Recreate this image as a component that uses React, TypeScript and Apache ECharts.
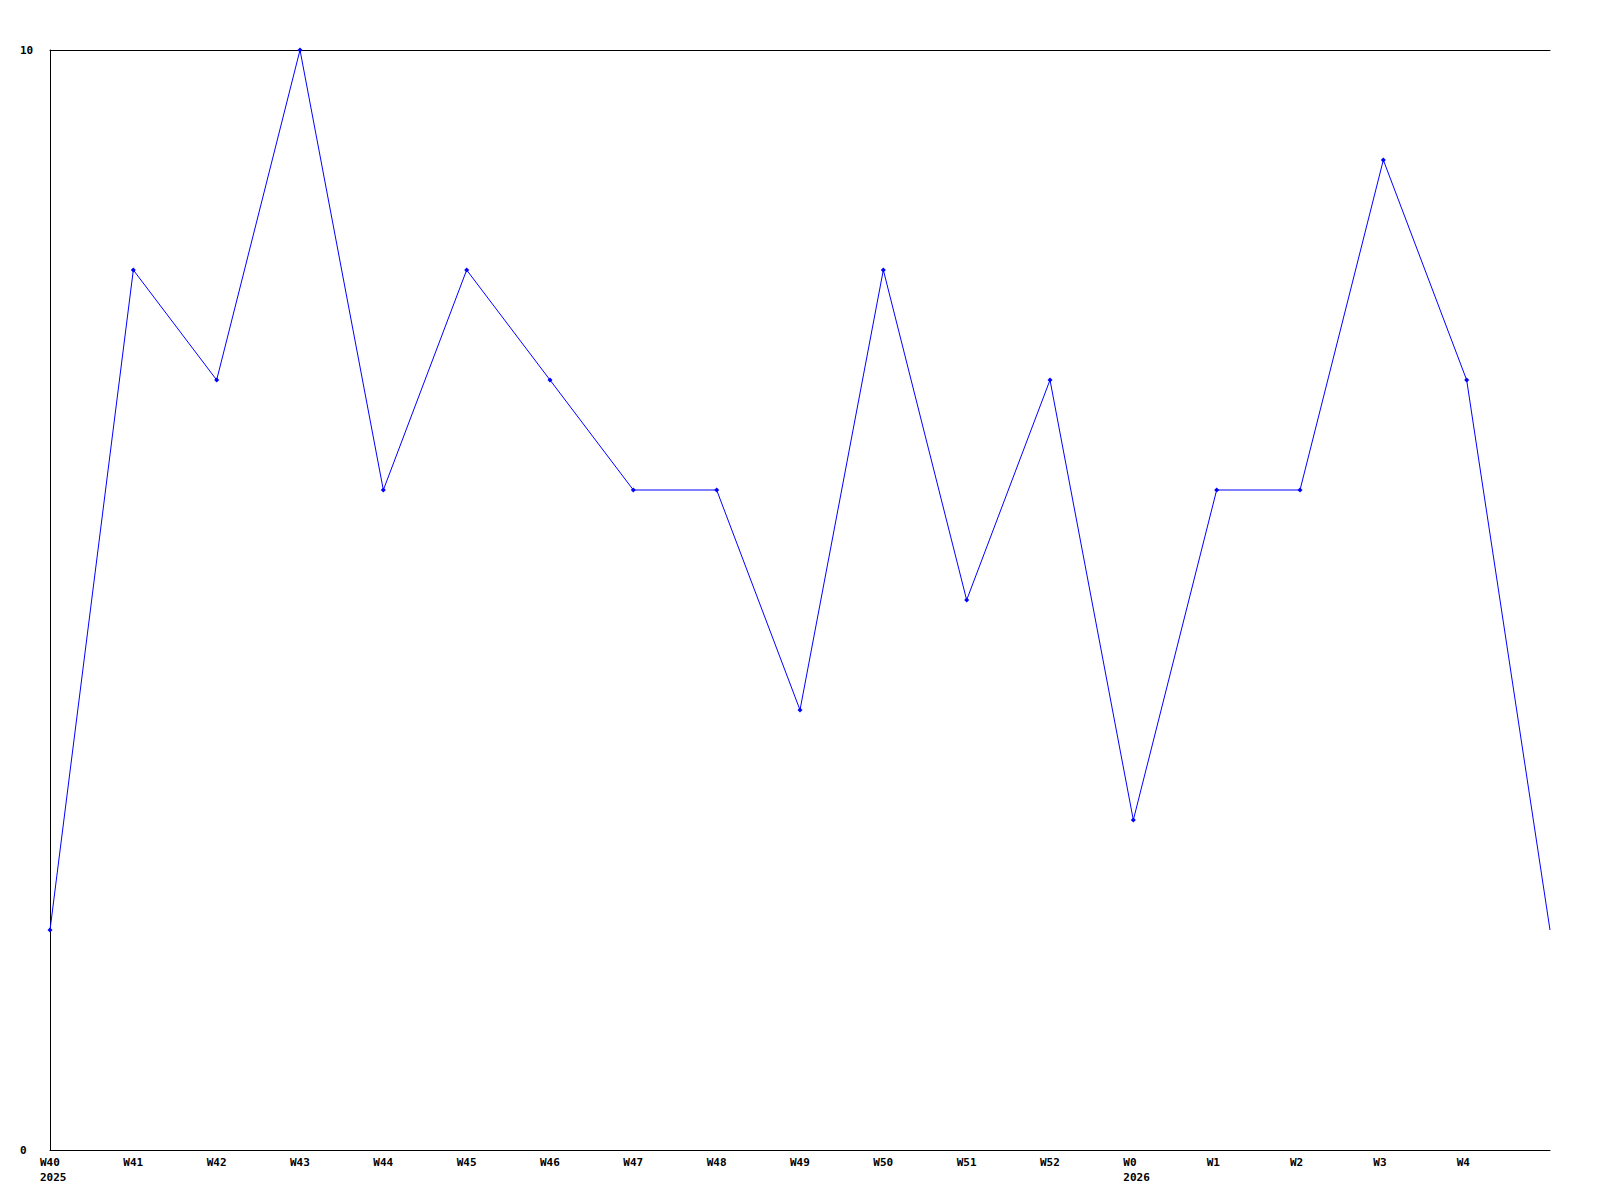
import React, { useEffect, useRef } from "react";
import * as echarts from "echarts";

const categories = ["W40\n2025", "W41", "W42", "W43", "W44", "W45", "W46", "W47", "W48", "W49", "W50", "W51", "W52", "W0\n2026", "W1", "W2", "W3", "W4", ""];
const values = [2, 8, 7, 10, 6, 8, 7, 6, 6, 4, 8, 5, 7, 3, 6, 6, 9, 7, 2];
const yTicks = { min: 0, max: 10, interval: 10 };

const FONT = "DejaVu Sans Mono";

export default function App() {
  const ref = useRef<HTMLDivElement>(null);
  useEffect(() => {
    if (!ref.current) return;
    const chart = echarts.init(ref.current, null, { renderer: "svg" });
    const data = values.map((v, i) =>
      i === values.length - 1 ? { value: v, symbol: "none" } : { value: v }
    );
    chart.setOption({
      animation: false,
      backgroundColor: "#ffffff",
      grid: { left: 50, right: 50, top: 50, bottom: 50 },
      xAxis: [
        {
          type: "category",
          data: categories,
          boundaryGap: false,
          axisLine: { show: true, lineStyle: { color: "#000", width: 1 } },
          axisTick: { show: false },
          splitLine: { show: false },
          axisLabel: {
            interval: 0,
            margin: 5,
            align: "left",
            padding: [0, 0, 0, -10],
            fontFamily: FONT,
            fontWeight: "bold",
            fontSize: 11,
            lineHeight: 15,
            color: "#000",
          },
        },
        {
          type: "category",
          data: categories,
          boundaryGap: false,
          position: "top",
          axisLine: { show: true, lineStyle: { color: "#000", width: 1 } },
          axisTick: { show: false },
          axisLabel: { show: false },
          splitLine: { show: false },
        },
      ],
      yAxis: {
        type: "value",
        min: yTicks.min,
        max: yTicks.max,
        interval: yTicks.interval,
        axisLine: { show: true, lineStyle: { color: "#000", width: 1 } },
        axisTick: { show: false },
        splitLine: { show: false },
        axisLabel: {
          margin: 30,
          align: "left",
          fontFamily: FONT,
          fontWeight: "bold",
          fontSize: 11,
          color: "#000",
        },
      },
      series: [
        {
          type: "line",
          data,
          symbol: "diamond",
          symbolSize: 5,
          showSymbol: true,
          lineStyle: { color: "#0000ff", width: 1 },
          itemStyle: { color: "#0000ff" },
          emphasis: { disabled: true },
        },
      ],
    });
    return () => chart.dispose();
  }, []);
  return (
    <div
      ref={ref}
      style={{ position: "fixed", left: 0, top: 0, width: 1600, height: 1200 }}
    />
  );
}
